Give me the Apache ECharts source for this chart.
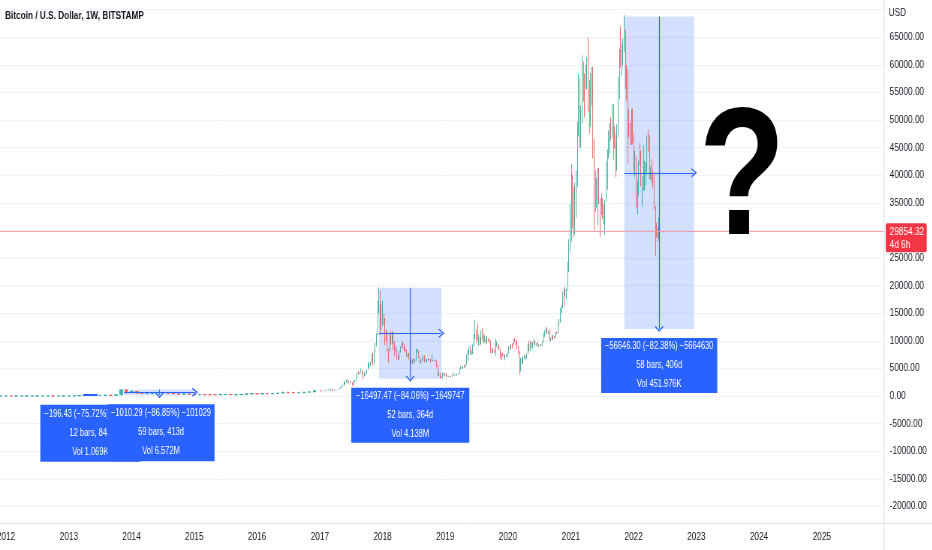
<!DOCTYPE html>
<html><head><meta charset="utf-8">
<script src="https://cdn.jsdelivr.net/npm/echarts@6/dist/echarts.min.js"></script>
<style>
html,body{margin:0;padding:0;background:#fff;overflow:hidden;width:932px;height:550px}
#c{width:1242.67px;height:550px;transform:scaleX(0.75);transform-origin:0 0}
</style>
</head><body><div id="c"></div>
<script>
// ---------------- DATA ----------------
const chartTitle = 'Bitcoin / U.S. Dollar, 1W, BITSTAMP';
const currency = 'USD';
const yearLabels = ['2012','2013','2014','2015','2016','2017','2018','2019','2020','2021','2022','2023','2024','2025'];

// early history, one candle per month from Dec 2011: [open, close, low, high]
const monthlyFirst = '2011-12-01';
const monthlyCandles = [
 [3.0,4.7,2.8,4.8],
 [4.7,5.5,4.6,7.4],[5.5,4.9,4.2,6.2],[4.9,4.9,4.7,5.5],[4.9,5.0,4.7,5.3],[5.0,5.2,4.9,5.2],[5.2,6.7,5.2,6.8],
 [6.7,9.4,6.5,9.6],[9.4,10.2,7.1,16.0],[10.2,12.4,9.9,12.9],[12.4,11.2,10.6,12.4],[11.2,12.6,10.2,13.0],[12.6,13.5,12.5,13.9],
 [13.5,20.4,13.2,20.6],[20.4,33.4,19.1,33.9],[33.4,93.0,33.2,95.0],[93,139,50,266],[139,129,108,135],[129,97,88,130],
 [97,106,65,110],[106,141,102,142],[141,133,120,144],[133,204,104,212],[204,1120,199,1163],[1120,732,400,1140],
 [732,800,730,1000],[800,560,400,840],[560,445,440,700],[445,445,340,550],[445,627,430,630],[627,637,550,680],
 [637,583,570,637],[583,480,450,600],[480,387,370,490],[387,338,320,420],[338,376,320,450],[376,317,300,380],
 [317,217,152,320],[217,255,210,262],[255,244,240,300],[244,236,214,260],[236,230,228,247],[230,264,218,267],
 [264,284,252,315],[284,230,195,285],[230,236,225,244],[236,313,236,334],[313,378,310,502],[378,430,350,467],
 [430,369,354,460],[369,437,366,440],[437,416,400,440],[416,448,412,465],[448,532,445,550],[532,673,530,775],
 [673,622,480,700],[622,574,470,620],[574,608,570,612],[608,700,608,720],[700,745,690,750],[745,963,740,975]
];

// weekly candles per year: [open, close, low, high]
const weekly2017First = '2017-01-02';
const weekly2017 = [
 [998,905,880,1150],[905,818,750,915],[818,920,810,930],[920,915,885,925],[915,1015,910,1030],[1015,1000,940,1070],
 [1000,1050,990,1060],[1050,1150,1045,1195],[1150,1230,1140,1290],[1230,1245,980,1330],[1245,1020,950,1260],[1020,965,890,1060],
 [965,1125,960,1130],[1125,1180,1115,1215],[1180,1170,1160,1215],[1170,1245,1160,1260],[1245,1340,1240,1350],[1340,1560,1330,1620],
 [1560,1760,1550,1860],[1760,2050,1700,2100],[2050,2150,1900,2750],[2150,2520,2100,2580],[2520,2950,2480,2990],[2950,2520,2150,2990],
 [2520,2550,2480,2780],[2550,2500,2320,2600],[2500,2510,2480,2680],[2510,1920,1840,2540],[1920,2750,1900,2910],[2750,2860,2600,2870],
 [2860,3400,2650,3430],[3400,4100,3350,4200],[4100,3980,3850,4480],[3980,4380,3950,4400],[4380,4600,4300,4980],[4600,4200,3990,4760],
 [4200,3700,2970,4350],[3700,3780,3550,4150],[3780,4390,3760,4400],[4390,4760,4150,4780],[4760,5700,4750,5850],[5700,6000,5100,6170],
 [6000,6140,5450,6200],[6140,7380,6100,7600],[7380,5900,5500,7880],[5900,8050,5850,8100],[8050,9300,7950,9600],[9300,11200,9000,11400],
 [11200,15000,11000,17200],[15000,19100,14900,19666],[19100,13900,11000,19100],[13900,13880,12000,16500]
];
const weekly2018First = '2018-01-01';
const weekly2018 = [
 [13880,14200,12750,17250],[14200,13600,12750,15000],[13600,11600,9200,14100],[11600,11500,10000,12000],[11500,8200,7900,11700],
 [8200,8100,6000,8600],[8100,10550,8050,11200],[10550,9600,9300,11800],[9600,11500,9400,11700],[11500,9550,8400,11700],
 [9550,8200,7300,9900],[8200,8450,8100,9100],[8450,6930,6600,8500],[6930,6900,6450,7500],[6900,8050,6600,8200],
 [8050,8900,7850,9000],[8900,9350,8700,9750],[9350,8700,8600,9950],[8700,8500,8200,9500],[8500,8250,7950,8850],
 [8250,7400,7100,8500],[7400,7650,7050,7750],[7650,6750,6600,7800],[6750,6500,6100,6900],[6500,6100,5800,6800],
 [6100,6600,5780,6650],[6600,6350,6100,6800],[6350,6350,6100,6750],[6350,8200,6350,8500],[8200,8200,7800,8500],
 [8200,7000,6900,8300],[7000,6300,5900,7150],[6300,6400,5880,6600],[6400,6700,6250,6900],[6700,7300,6600,7400],
 [7300,6500,6150,7400],[6500,6500,6150,6600],[6500,6700,6100,6800],[6700,6630,6450,6800],[6630,6600,6450,6700],
 [6600,6300,6050,6700],[6300,6450,6250,7600],[6450,6400,6350,6500],[6400,6400,6250,6500],[6400,6400,6300,6550],
 [6400,5600,5250,6450],[5600,3750,3600,5600],[3750,4150,3550,4400],[4150,3550,3250,4200],[3550,3250,3120,3600],
 [3250,4000,3220,4250],[4000,3850,3600,4250],[3850,4050,3700,4100]
];
const weekly2019First = '2019-01-07';
const weekly2019 = [
 [4050,3550,3500,4100],[3550,3550,3500,3730],[3550,3450,3440,3650],[3450,3450,3370,3530],[3450,3620,3350,3700],
 [3620,3610,3550,3700],[3610,3850,3600,4200],[3850,3870,3700,3950],[3870,3900,3700,3950],[3900,4000,3800,4050],
 [4000,3980,3900,4080],[3980,4850,3950,5000],[4850,5050,4850,5350],[5050,5080,4950,5450],[5080,5300,5000,5350],
 [5300,5250,5100,5650],[5250,5750,5200,5850],[5750,7250,5750,7600],[7250,8150,6400,8350],[8150,8700,7500,8950],
 [8700,7800,7450,9100],[7800,8000,7450,8300],[8000,9300,7600,9350],[9300,10800,8950,11200],[10800,11800,10350,13800],
 [11800,11300,9700,12000],[11300,10300,10000,13150],[10300,10650,9100,11100],[10650,9450,9150,10700],[9450,11800,9400,11900],
 [11800,10300,10000,12300],[10300,10200,9500,11400],[10200,10350,9750,10950],[10350,9600,9350,10600],[9600,10400,9550,10900],
 [10400,10300,9900,10450],[10300,9950,9600,10350],[9950,8200,7750,10000],[8200,8150,7700,8550],[8150,8300,7800,8700],
 [8300,7950,7850,8400],[7950,9200,7300,10400],[9200,9200,8950,9900],[9200,8800,8600,9500],[8800,8500,8300,9100],
 [8500,7100,6800,8600],[7100,7550,6500,7850],[7550,7500,7200,7800],[7500,7050,6850,7600],[7050,7150,6450,7500],
 [7150,7400,7100,7650],[7400,7750,6850,7800]
];
const weekly2020First = '2020-01-06';
const weekly2020 = [
 [7750,8900,7700,9000],[8900,8700,8550,9200],[8700,9350,8250,9400],[9350,9300,8600,9600],[9300,10300,9150,10350],
 [10300,9900,9700,10500],[9900,9700,9300,10250],[9700,8550,8450,9950],[8550,8050,7600,9200],[8050,5350,3850,8150],
 [5350,5850,4450,6900],[5850,5900,5700,6950],[5900,6800,5850,7200],[6800,6900,6750,7450],[6900,7100,6500,7300],
 [7100,7700,6800,7750],[7700,8900,7650,9450],[8900,8700,8150,10050],[8700,9650,8200,9950],[9650,8700,8650,9850],
 [8700,9450,8650,9750],[9450,9700,9350,10400],[9700,9300,9050,9950],[9300,9300,9150,9600],[9300,9000,8900,9800],
 [9000,9050,8950,9300],[9050,9250,9000,9450],[9250,9150,9050,9300],[9150,9700,9100,9900],[9700,11050,9700,11450],
 [11050,11550,10700,11900],[11550,11900,11200,12450],[11900,11650,11350,12400],[11650,11700,11150,11800],[11700,10250,9900,12100],
 [10250,10300,9900,10600],[10300,10900,10200,11100],[10900,10750,10150,10950],[10750,10650,10400,10950],[10650,11450,10550,11500],
 [11450,11350,11200,11700],[11350,13100,11300,13250],[13100,13800,12950,14000],[13800,15500,13300,15950],[15500,16000,15000,16500],
 [16000,18400,15900,18900],[18400,18200,16200,19500],[18200,19150,18100,19900],[19150,19250,17600,19450],[19250,24000,19000,24300],
 [24000,26500,22500,28400],[26500,33000,26150,34800]
];
const weekly2021First = '2021-01-04';
const weekly2021 = [
 [33000,38200,28000,42000],[38200,36000,30400,40100],[36000,32300,28800,37900],[32300,33500,29200,38600],[33500,39200,32300,40900],
 [39200,48900,37900,49700],[48900,57500,47000,58300],[57500,45200,44900,57500],[45200,51000,45000,52600],[51000,59000,49300,61700],
 [59000,57400,53300,60600],[57400,55900,50500,58400],[55900,57600,55600,60000],[57600,60000,55500,61400],[60000,56200,51500,64900],
 [56200,49100,47500,57200],[49100,57000,48800,58500],[57000,58200,52600,59600],[58200,46400,43000,59600],[46400,34700,30000,46600],
 [34700,35600,33400,40900],[35600,35800,34100,39500],[35800,39000,31000,41300],[39000,35500,34800,41300],[35500,34700,28800,35800],
 [34700,35300,32800,36700],[35300,34300,32100,35900],[34300,31800,31100,34700],[31800,35400,29300,35500],[35400,42000,35250,42600],
 [42000,43800,37400,44700],[43800,47100,43000,48100],[47100,49300,43900,49400],[49300,49000,46300,50500],[49000,49900,46700,52800],
 [49900,48300,42800,52900],[48300,47300,44800,48900],[47300,43200,39600,47400],[43200,48200,40800,49200],[48200,57500,46900,57800],
 [57500,61500,53800,62900],[61500,60900,59500,67000],[60900,61800,58000,63700],[61800,64600,59900,64800],[64600,65500,62300,69000],
 [65500,59700,55600,66300],[59700,57300,53500,59900],[57300,49400,42000,59100],[49400,48900,46800,51900],[48900,46700,45500,49500],
 [46700,50800,45500,52000],[50800,46200,45600,52100]
];
const weekly2022First = '2022-01-03';
const weekly2022 = [
 [46200,41900,40700,47600],[41900,43100,39700,44500],[43100,36300,34000,43500],[36300,37900,32900,38900],[37900,42400,36300,42600],
 [42400,42200,41800,45800],[42200,38300,38000,44500],[38300,39100,34300,39800],[39100,38000,37200,45400],[38000,38900,37200,42600],
 [38900,41300,38200,42400],[41300,46800,40500,47200],[46800,46400,44200,48200],[46400,40400,39200,47200],[40400,40400,39200,41600],
 [40400,39500,38600,42900],[39500,38500,37700,40800],[38500,34300,33700,40000],[34300,31300,25400,34400],[31300,29400,28700,31400],
 [29400,28600,28000,30600],[28600,29854.32,28500,32400]
];

const lastPrice = 29854.32;
const lastPriceTimer = '4d 6h';

// price range measuring tools (date range, price range, stats text)
const toolFrom = ['2013-03-25','2013-11-18','2017-12-11','2021-11-08'];
const toolTo   = ['2013-06-17','2015-01-05','2018-12-10','2022-12-19'];
const toolHigh = [259.43, 1163.29, 19626.0, 68762.3];
const toolLow  = [63.0, 153.0, 3128.5, 12116.0];
const toolText = [
 ['\u2212196.43 (\u221275.72%) \u221219643','12 bars, 84d','Vol 1.069K'],
 ['\u22121010.29 (\u221286.85%) \u2212101029','59 bars, 413d','Vol 6.572M'],
 ['\u221216497.47 (\u221284.06%) \u22121649747','52 bars, 364d','Vol 4.138M'],
 ['\u221256646.30 (\u221282.38%) \u22125664630','58 bars, 406d','Vol 451.976K']
];
const bigMark = '?';

// ---------------- STYLE / LAYOUT ----------------
const S = 0.75;                       // the page is shown squeezed horizontally, like the screenshot
const X = px => px / S;               // screen px -> drawing px
const FONT = "'Liberation Sans',Arial,sans-serif";
const UP = '#26a69a', DOWN = '#ef5350', BLUE = '#2962ff';
const boxW = [X(100), X(107), X(118), X(116)], boxH = [57, 57, 55, 55], boxDX = [0, 2, 0, 0];
const toolGuides = [false, true, true, true];
const DAY = 86400000, YEAR = 365.25 * DAY;
const PX_PER_YEAR = 62.7, X2012 = 6, PLOT_W = 883;
const t2012 = Date.UTC(2012, 0, 1);
const xMin = t2012 - X2012 / PX_PER_YEAR * YEAR;
const xMax = t2012 + (PLOT_W - X2012) / PX_PER_YEAR * YEAR;

function ts(s) { const p = s.split('-').map(Number); return Date.UTC(p[0], p[1] - 1, p[2]); }
const monthlyData = monthlyCandles.map((c, i) => {
  const p = monthlyFirst.split('-').map(Number);
  return [Date.UTC(p[0], p[1] - 1 + i, 1)].concat(c);
});
function weeks(first, arr) { const t0 = ts(first); return arr.map((c, i) => [t0 + i * 7 * DAY].concat(c)); }
const weeklyData = [].concat(
  weeks(weekly2017First, weekly2017), weeks(weekly2018First, weekly2018), weeks(weekly2019First, weekly2019),
  weeks(weekly2020First, weekly2020), weeks(weekly2021First, weekly2021), weeks(weekly2022First, weekly2022));

const CHEVRON = 'path://M0,9 L6,0 L12,9 L10.6,10 L6,3 L1.4,10 Z';
const areas = [], lines = [], boxes = [];
toolFrom.forEach((f, i) => {
  const a = ts(f), b = ts(toolTo[i]), mid = (a + b) / 2, mp = (toolHigh[i] + toolLow[i]) / 2;
  areas.push([{ coord: [a, toolHigh[i]] }, { coord: [b, toolLow[i]] }]);
  if (toolGuides[i]) {
    lines.push([{ coord: [mid, toolHigh[i]], symbol: 'none' }, { coord: [mid, toolLow[i]], symbol: CHEVRON, symbolSize: [X(9), 6] }]);
    lines.push([{ coord: [a, mp], symbol: 'none' }, { coord: [b, mp], symbol: CHEVRON, symbolSize: [9, X(6)] }]);
  } else {
    lines.push([{ coord: [a, mp], symbol: 'none' }, { coord: [b, mp], symbol: 'none', lineStyle: { width: 2 } }]);
  }
  boxes.push({
    coord: [mid, toolLow[i]], symbol: 'rect', symbolSize: [boxW[i], boxH[i]],
    symbolOffset: [boxDX[i], boxH[i] / 2 + 9],
    itemStyle: { color: BLUE },
    label: { show: true, position: 'inside', formatter: toolText[i].join('\n'), color: '#fff',
      fontSize: 10, lineHeight: 19, fontFamily: FONT, align: 'center' }
  });
});

const candleStyle = { color: UP, color0: DOWN, borderColor: UP, borderColor0: DOWN, borderWidth: 1, opacity: 0.85 };
const chart = echarts.init(document.getElementById('c'), null, { renderer: 'canvas', width: X(932), height: 550 });
chart.setOption({
  animation: false,
  backgroundColor: '#ffffff',
  grid: { left: 0, right: X(932 - PLOT_W), top: 9.6, bottom: 43.6, containLabel: false, outerBoundsMode: 'none' },
  xAxis: {
    type: 'value', min: xMin, max: xMax, scale: true,
    axisLine: { show: false }, axisTick: { show: false }, splitLine: { show: false },
    axisLabel: {
      customValues: yearLabels.map(y => Date.UTC(+y, 0, 1)),
      formatter: v => String(new Date(v).getUTCFullYear()),
      color: '#131722', fontSize: 11, fontFamily: FONT, margin: 25, hideOverlap: false
    }
  },
  yAxis: {
    type: 'value', position: 'right', min: -20000, max: 70000, interval: 5000, scale: false,
    axisLine: { show: false }, axisTick: { show: false },
    axisLabel: { color: '#131722', fontSize: 11, fontFamily: FONT, margin: X(6),
      formatter: v => v >= 70000 ? '' : v.toFixed(2) },
    splitLine: { lineStyle: { color: '#eff2f8', width: 1 } }
  },
  series: [
    {
      type: 'candlestick', data: monthlyData, barWidth: 4, clip: false, silent: true, z: 2,
      itemStyle: candleStyle,
      markPoint: { silent: true, z: 4, data: boxes.slice(0, 1) }
    },
    {
      type: 'candlestick', data: weeklyData, barWidth: 1, clip: false, silent: true, z: 2,
      itemStyle: candleStyle,
      markArea: { silent: true, itemStyle: { color: 'rgba(41,98,255,0.2)' }, label: { show: false }, data: areas },
      markLine: { silent: true, label: { show: false },
        lineStyle: { color: BLUE, width: 1.2, type: 'solid', opacity: 1 }, data: lines },
      markPoint: { silent: true, z: 5, data: boxes.slice(1) }
    }
  ],
  graphic: [
    { id: 'title', type: 'text', left: X(5), top: 10, style: { text: chartTitle, fill: '#131722', font: "bold 11px " + FONT } },
    { id: 'cur', type: 'text', left: X(888), top: 7, style: { text: currency, fill: '#131722', font: "11px " + FONT } },
    { id: 'vsep', type: 'line', shape: { x1: X(PLOT_W) + 0.5, y1: 0, x2: X(PLOT_W) + 0.5, y2: 550 }, style: { stroke: '#e0e3eb', lineWidth: 1.3 } },
    { id: 'hsep', type: 'line', shape: { x1: 0, y1: 523.5, x2: X(932), y2: 523.5 }, style: { stroke: '#e0e3eb', lineWidth: 1 } },
    { id: 'q', type: 'text', x: X(741.5), y: 184, scaleX: 1.04, z: 50,
      style: { text: bigMark, fill: '#000', font: "bold 182px 'Liberation Sans',sans-serif",
        textAlign: 'center', textVerticalAlign: 'middle' } }
  ]
});

// last price line and tag on the price scale
const py = chart.convertToPixel({ yAxisIndex: 0 }, lastPrice);
chart.setOption({
  graphic: [
    { id: 'pline', type: 'rect', z: 40, shape: { x: 0, y: Math.round(py), width: X(PLOT_W), height: 1 },
      style: { fill: '#f5a0a8', stroke: null } },
    { id: 'tagBox', type: 'rect', z: 100, shape: { x: X(885), y: py - 8, width: X(41), height: 29, r: 2 }, style: { fill: '#f23645' } },
    { id: 'tagText', type: 'text', z: 101, left: X(889), top: py - 6, style: { text: lastPrice.toFixed(2) + '\n' + lastPriceTimer, fill: '#fff',
      font: "11px " + FONT, lineHeight: 13 } }
  ]
});
</script></body></html>
